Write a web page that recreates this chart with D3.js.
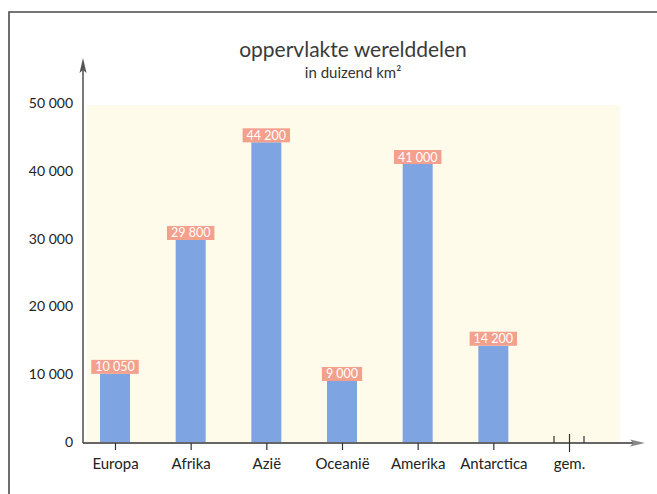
<!DOCTYPE html>
<html>
<head>
<meta charset="utf-8">
<script src="https://cdn.jsdelivr.net/npm/d3@7"></script>
<style>
  html, body { margin: 0; padding: 0; background: #ffffff; }
  svg { display: block; }
  text { font-family: Lato, "Open Sans", sans-serif; }
</style>
</head>
<body>
<svg id="chart" width="657" height="494"></svg>
<script>
// Oppervlakte van de werelddelen, in duizend km²
const categories = ["Europa", "Afrika", "Azië", "Oceanië", "Amerika", "Antarctica"];
const values = [10050, 29800, 44200, 9000, 41000, 14200];
const extraCategory = "gem.";
const yTicks = [0, 10000, 20000, 30000, 40000, 50000];

const W = 657, H = 494;
const svg = d3.select("#chart");

const nl = d3.formatLocale({ decimal: ",", thousands: "\u2009", grouping: [3], currency: ["€", ""] });
const fmt = v => nl.format(",")(v).replace(/\u2009/g, " ");

const x = d3.scalePoint()
  .domain([...categories, extraCategory])
  .range([115, 569]);

const y = d3.scaleLinear()
  .domain([0, 50000])
  .range([442, 103]);

const axisX0 = 83;
const barW = 30;

// outer frame
svg.append("path")
  .attr("d", `M9,${H + 2} V12 H${W + 2}`)
  .attr("fill", "none")
  .attr("stroke", "#4a4a4a")
  .attr("stroke-width", 1.6);

// cream plot background
svg.append("rect")
  .attr("x", 87).attr("y", 105)
  .attr("width", 533).attr("height", y(0) - 105)
  .attr("fill", "#fffbea");

// title
svg.append("text")
  .attr("x", 353).attr("y", 57)
  .attr("text-anchor", "middle")
  .attr("font-size", 21)
  .attr("fill", "#3a3a3a")
  .text("oppervlakte werelddelen");

svg.append("text")
  .attr("x", 353).attr("y", 78)
  .attr("text-anchor", "middle")
  .attr("font-size", 15)
  .attr("fill", "#333")
  .text("in duizend km²");

// bars
svg.append("g").selectAll("rect")
  .data(values)
  .join("rect")
  .attr("x", (d, i) => x(categories[i]) - barW / 2)
  .attr("y", d => y(d))
  .attr("width", barW)
  .attr("height", d => y(0) - y(d))
  .attr("fill", "#7fa4e2");

// value labels on salmon tags
const tags = svg.append("g").selectAll("g")
  .data(values)
  .join("g")
  .attr("transform", (d, i) => `translate(${x(categories[i])},${y(d)})`);

tags.each(function (d) {
  const g = d3.select(this);
  const t = g.append("text")
    .attr("x", 0).attr("y", -2.5)
    .attr("text-anchor", "middle")
    .attr("font-size", 12.5)
    .attr("fill", "#ffffff")
    .text(fmt(d));
  const w = t.node().getComputedTextLength() + 8;
  g.insert("rect", "text")
    .attr("x", -w / 2).attr("y", -14)
    .attr("width", w).attr("height", 14)
    .attr("fill", "#f3a08c");
});

// y axis (no tick marks, labels only)
const yAxis = d3.axisLeft(y)
  .tickValues(yTicks)
  .tickSize(0)
  .tickPadding(10)
  .tickFormat(fmt);

const gy = svg.append("g")
  .attr("transform", `translate(${axisX0},0)`)
  .call(yAxis);
gy.select(".domain").remove();
gy.selectAll("text")
  .attr("font-size", 14)
  .attr("fill", "#222")
  .attr("font-family", "Lato, sans-serif");

// y axis line with arrow
svg.append("line")
  .attr("x1", axisX0).attr("x2", axisX0)
  .attr("y1", y(0) + 1).attr("y2", 68)
  .attr("stroke", "#333").attr("stroke-width", 1.3);
svg.append("path")
  .attr("d", `M${axisX0},58 L${axisX0 + 3.5},73 L${axisX0},70 L${axisX0 - 3.5},73 Z`)
  .attr("fill", "#555");

// x axis with category ticks
const xAxis = d3.axisBottom(x)
  .tickSize(7)
  .tickPadding(8);

const gx = svg.append("g")
  .attr("transform", `translate(0,${y(0) + 1})`)
  .call(xAxis);
gx.select(".domain").remove();
gx.selectAll(".tick line").attr("stroke", "#333").attr("stroke-width", 1.2);
gx.selectAll(".tick text")
  .attr("font-size", 15)
  .attr("fill", "#222")
  .attr("font-family", "Lato, sans-serif");

// the "gem." tick runs through the axis, flanked by two short marks
const gemX = x(extraCategory);
gx.selectAll(".tick").filter(d => d === extraCategory).select("line")
  .attr("y1", -9).attr("y2", 9);
[-15, 15].forEach(dx => {
  svg.append("line")
    .attr("x1", gemX + dx).attr("x2", gemX + dx)
    .attr("y1", y(0) + 1).attr("y2", y(0) - 6)
    .attr("stroke", "#333").attr("stroke-width", 1.2);
});

svg.append("line")
  .attr("x1", axisX0).attr("x2", 634)
  .attr("y1", y(0) + 1).attr("y2", y(0) + 1)
  .attr("stroke", "#333").attr("stroke-width", 1.3);
svg.append("path")
  .attr("d", `M645,${y(0) + 1} L630,${y(0) - 2.5} L633,${y(0) + 1} L630,${y(0) + 4.5} Z`)
  .attr("fill", "#888");
</script>
</body>
</html>
